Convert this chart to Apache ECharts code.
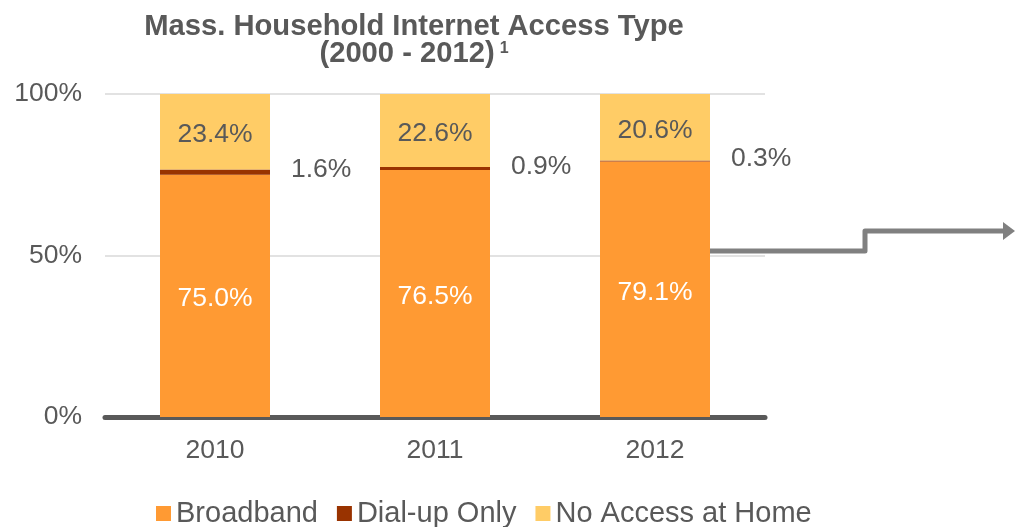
<!DOCTYPE html>
<html>
<head>
<meta charset="utf-8">
<script src="https://cdn.jsdelivr.net/npm/echarts@6/dist/echarts.min.js"></script>
<style>
  html, body { margin: 0; padding: 0; background: #fff; }
  #chart { width: 1015px; height: 527px; }
</style>
</head>
<body>
<div id="chart"></div>
<script>
// Share of Massachusetts households by internet access type
const years = ['2010', '2011', '2012'];
const broadband = [75.0, 76.5, 79.1];
const dialUp = [1.6, 0.9, 0.3];
const noAccess = [23.4, 22.6, 20.6];
const yTicks = [0, 50, 100];

const FONT = '"Liberation Sans", Arial, sans-serif';
const GREY = '#595959';
const pct = p => p.value.toFixed(1) + '%';

const chart = echarts.init(document.getElementById('chart'));

chart.setOption({
  animation: false,
  textStyle: { fontFamily: FONT },
  title: {
    text: '{t|Mass. Household Internet Access Type}\n{t|(2000 - 2012)} {s|1}',
    left: 409,
    textAlign: 'center',
    top: 8,
    textStyle: {
      rich: {
        t: { fontSize: 29.2, fontWeight: 'bold', color: GREY, fontFamily: FONT, lineHeight: 27 },
        s: { fontSize: 16, fontWeight: 'bold', color: GREY, fontFamily: FONT, lineHeight: 27, padding: [0, 0, 10, 0] }
      }
    }
  },
  legend: {
    left: 151,
    top: 494,
    icon: 'rect',
    itemWidth: 15,
    itemHeight: 15,
    itemGap: 19,
    textStyle: { fontSize: 29, color: GREY, fontFamily: FONT },
    data: ['Broadband', 'Dial-up Only', 'No Access at Home']
  },
  grid: { left: 105, right: 250, top: 94, bottom: 110 },
  xAxis: {
    type: 'category',
    data: years,
    axisLine: { lineStyle: { color: GREY, width: 5 } },
    axisTick: { show: false },
    axisLabel: { fontSize: 26.5, color: GREY, margin: 20, fontFamily: FONT }
  },
  yAxis: {
    type: 'value',
    min: yTicks[0],
    max: yTicks[yTicks.length - 1],
    interval: 50,
    axisLine: { show: false },
    axisTick: { show: false },
    splitLine: { lineStyle: { color: '#d9d9d9', width: 1.5 } },
    axisLabel: { fontSize: 26.5, color: GREY, margin: 23, fontFamily: FONT, formatter: v => v + '%' }
  },
  series: [
    {
      name: 'Broadband', type: 'bar', stack: 'all', barWidth: '50%',
      data: broadband,
      itemStyle: { color: '#FF9A33' },
      label: { show: true, position: 'inside', offset: [0, 3], color: '#fff', fontSize: 26.5, fontFamily: FONT, formatter: pct }
    },
    {
      name: 'Dial-up Only', type: 'bar', stack: 'all',
      data: dialUp,
      itemStyle: { color: '#993300' },
      label: { show: true, position: 'right', distance: 21, offset: [0, -2], color: GREY, fontSize: 26.5, fontFamily: FONT, formatter: pct }
    },
    {
      name: 'No Access at Home', type: 'bar', stack: 'all',
      data: noAccess,
      itemStyle: { color: '#FFCC66' },
      label: { show: true, position: 'inside', offset: [0, 3], color: GREY, fontSize: 26.5, fontFamily: FONT, formatter: pct }
    }
  ],
  graphic: [
    {
      type: 'polyline',
      shape: { points: [[710, 251], [865, 251], [865, 231], [1004, 231]] },
      style: { stroke: '#808080', lineWidth: 5, fill: null, lineJoin: 'round' }
    },
    {
      type: 'polygon',
      shape: { points: [[1003, 222], [1015, 231], [1003, 240]] },
      style: { fill: '#808080' }
    }
  ]
});
</script>
</body>
</html>
